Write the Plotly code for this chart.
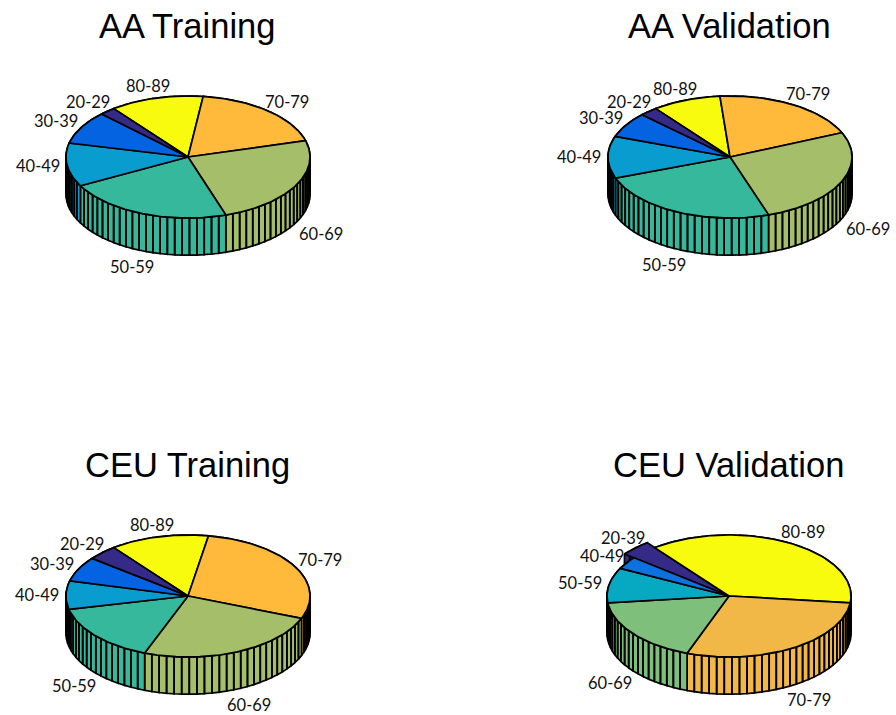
import numpy as np
import plotly.graph_objects as go

# ---- data (percent share of each age band, clockwise from the 80-89 slice)
aa_train_labels = ["80-89", "70-79", "60-69", "50-59", "40-49", "30-39", "20-29"]
aa_train_values = [12.4, 18.7, 24.3, 22.2, 11.5, 8.8, 2.1]
aa_train_colors = ["#f9fb0e", "#ffba3b", "#a5be6a", "#36b89c", "#089ccf", "#0363e1", "#352a87"]

aa_val_labels = ["80-89", "70-79", "60-69", "50-59", "40-49", "30-39", "20-29"]
aa_val_values = [9.1, 19.8, 26.4, 24.5, 11.1, 6.7, 2.4]
aa_val_colors = aa_train_colors

ceu_train_labels = ["80-89", "70-79", "60-69", "50-59", "40-49", "30-39", "20-29"]
ceu_train_values = [13.1, 28.3, 24.8, 15.7, 7.5, 6.6, 4.0]
ceu_train_colors = aa_train_colors

ceu_val_labels = ["80-89", "70-79", "60-69", "50-59", "40-49", "20-39"]
ceu_val_values = [37.2, 28.8, 17.6, 9.3, 3.3, 3.8]
ceu_val_colors = ["#f9fb0e", "#f1b747", "#7dbf7b", "#07a9c2", "#0b72e0", "#352a87"]
ceu_val_exploded = ["20-39"]

titles = ["AA Training", "AA Validation", "CEU Training", "CEU Validation"]

W, H = 896, 715
RX = 122.0            # horizontal pie radius in pixels
TILT = 0.5            # vertical squash of the disc
WALL = 0.305          # wall height, in pie radii
LABEL_DROP = 0.345    # how far labels of front slices sit below the disc
START = -37.5         # angle of the first slice edge, clockwise from north
LABEL_RX, LABEL_RY = 1.24, 1.2
EXPLODE = 1.1
LW = 1.7

panels = [
    (titles[0], aa_train_labels, aa_train_values, aa_train_colors, [], 188, 157),
    (titles[1], aa_val_labels, aa_val_values, aa_val_colors, [], 730, 157),
    (titles[2], ceu_train_labels, ceu_train_values, ceu_train_colors, [], 188, 596),
    (titles[3], ceu_val_labels, ceu_val_values, ceu_val_colors, ceu_val_exploded, 729, 596),
]


def rim(t_deg, r=1.0):
    t = np.radians(t_deg)
    return r * np.sin(t), TILT * r * np.cos(t)


fig = go.Figure()
layout = dict(
    width=W, height=H, margin=dict(l=0, r=0, t=0, b=0),
    paper_bgcolor="white", plot_bgcolor="white", showlegend=False,
    hovermode=False,
)
annotations = []

for i, (title, labels, values, colors, exploded, cx, cy) in enumerate(panels):
    xn = f"x{i + 1}" if i else "x"
    yn = f"y{i + 1}" if i else "y"
    xkey = f"xaxis{i + 1}" if i else "xaxis"
    ykey = f"yaxis{i + 1}" if i else "yaxis"
    # axes are sized so one data unit = RX pixels
    left_px, right_px = max(cx - 176, 0), min(cx + 176, W)
    top_px, bot_px = max(cy - 150, 0), min(cy + 119, H)
    layout[xkey] = dict(
        domain=[left_px / W, right_px / W],
        range=[(left_px - cx) / RX, (right_px - cx) / RX],
        visible=False, fixedrange=True,
    )
    layout[ykey] = dict(
        domain=[1 - bot_px / H, 1 - top_px / H],
        range=[-(bot_px - cy) / RX, (cy - top_px) / RX],
        visible=False, fixedrange=True,
    )

    vals = np.array(values, dtype=float)
    frac = vals / vals.sum()
    edges = START + 360 * np.concatenate([[0], np.cumsum(frac)])

    def add_wall(k, r):
        n = int(np.ceil(100 * frac[k]))
        ts = np.linspace(edges[k], edges[k + 1], n + 1)
        wx, wy = [], []
        for s in range(n):
            x0, y0 = rim(ts[s], r)
            x1, y1 = rim(ts[s + 1], r)
            wx += [x0, x1, x1, x0, x0, None]
            wy += [y0, y1, y1 - WALL, y0 - WALL, y0, None]
        fig.add_trace(go.Scatter(
            x=wx, y=wy, mode="lines", fill="toself", fillcolor=colors[k],
            line=dict(color="black", width=LW), xaxis=xn, yaxis=yn,
            hoverinfo="skip",
        ))

    def add_top(k, r):
        a0, a1 = edges[k], edges[k + 1]
        tx, ty = rim(np.linspace(a0, a1, max(int(a1 - a0), 8)), r)
        fig.add_trace(go.Scatter(
            x=np.r_[0, tx, 0], y=np.r_[0, ty, 0],
            mode="lines", fill="toself", fillcolor=colors[k],
            line=dict(color="black", width=LW), xaxis=xn, yaxis=yn,
            hoverinfo="skip",
        ))

    # painter's order: ordinary walls, pulled-out slice, ordinary tops
    for k in range(len(labels)):
        if labels[k] not in exploded:
            add_wall(k, 1.0)
    for k in range(len(labels)):
        if labels[k] in exploded:
            add_wall(k, EXPLODE)
            add_top(k, EXPLODE)
    for k in range(len(labels)):
        if labels[k] not in exploded:
            add_top(k, 1.0)

    # labels
    for k, lab in enumerate(labels):
        mid = (edges[k] + edges[k + 1]) / 2
        lx = rim(mid, LABEL_RX)[0]
        ly = rim(mid, LABEL_RY)[1]
        if np.cos(np.radians(mid)) < -0.2:
            ly -= LABEL_DROP
        if lab in exploded:
            ly *= EXPLODE
        annotations.append(dict(
            x=lx, y=ly, xref=xn, yref=yn, text=lab, showarrow=False,
            font=dict(family="Lato", size=16.5, color="#111111"),
            xanchor="center", yanchor="middle",
        ))

    # title
    annotations.append(dict(
        x=(cx - 1) / W, y=1 - (cy - 131.5) / H, xref="paper", yref="paper",
        text=title, showarrow=False,
        font=dict(family="Liberation Sans", size=34.5, color="black"),
        xanchor="center", yanchor="middle",
    ))

layout["annotations"] = annotations
fig.update_layout(**layout)
fig.write_html(
    "out.html",
    config={"displayModeBar": False},
    post_script="document.body.style.margin='0';document.documentElement.style.overflow='hidden';",
)
